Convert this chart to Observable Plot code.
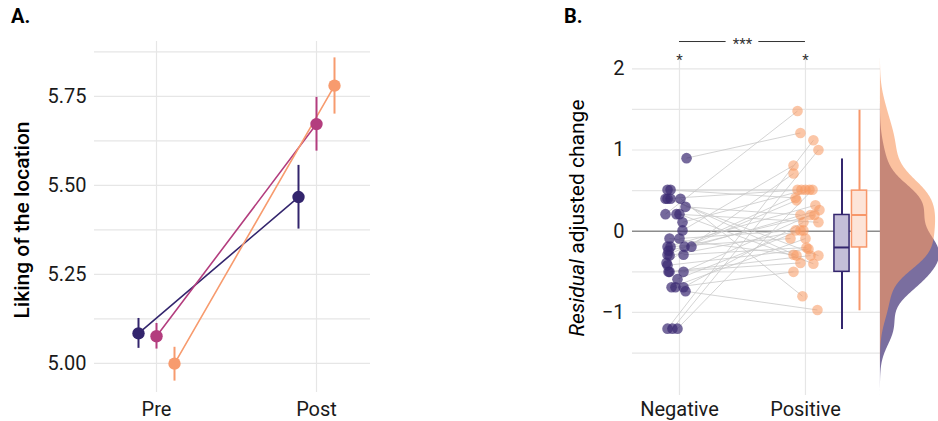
<!DOCTYPE html>
<html><head><meta charset="utf-8">
<script src="https://cdn.jsdelivr.net/npm/d3@7"></script>
<script src="https://cdn.jsdelivr.net/npm/@observablehq/plot@0.6"></script>
<style>
html,body{margin:0;padding:0;background:#fff;overflow:hidden}
#wrap{position:relative;width:938px;height:421px;font-family:Roboto,sans-serif}
.panel{position:absolute;top:0}
.tag{position:absolute;top:4px;font-weight:bold;font-size:20px;font-family:Roboto,sans-serif;color:#000}
</style></head><body>
<div id="wrap">
<div id="a" class="panel" style="left:0"></div>
<div id="b" class="panel" style="left:560px"></div>
<div class="tag" style="left:11px">A.</div>
<div class="tag" style="left:564px">B.</div>
</div>
<script>
// ---------- Panel A data ----------
const timesA = ["Pre", "Post"];
const groupsA = ["Negative", "Neutral", "Positive"];
const meanA = [[5.084, 5.467], [5.076, 5.672], [4.999, 5.780]];
const lowA  = [[5.042, 5.377], [5.040, 5.596], [4.950, 5.700]];
const highA = [[5.126, 5.556], [5.112, 5.747], [5.045, 5.858]];
const yTicksA = [5.00, 5.25, 5.50, 5.75];
const colorsA = ["#33256d", "#b33d7e", "#f79b6e"];

// ---------- Panel B data ----------
const conditionsB = ["Negative", "Positive"];
const negValue = [0.90, 0.51, 0.51, 0.40, 0.40, 0.40, 0.30, 0.21, 0.21, 0.21, 0.11, 0.01,
  -0.09, -0.09, -0.19, -0.19, -0.19, -0.19, -0.29, -0.29, -0.39, -0.50, -0.50, -0.59,
  -0.69, -0.69, -0.69, -0.74, -1.20, -1.20, -1.20, -0.42, -0.50, -0.24, -0.30, 0.40];
const negJitter = [0.056, -0.071, -0.095, -0.111, -0.071, 0.008, 0.048, -0.111, -0.024, 0, 0.024, 0.024,
  0, -0.079, -0.095, -0.071, 0.040, 0.095, 0.032, -0.095, -0.103, -0.087, 0.032, -0.016,
  -0.063, -0.032, 0.032, 0.048, -0.095, -0.056, -0.016, -0.095, -0.079, -0.087, -0.079, -0.095];
const posValue = [1.21, 0.51, 0.41, 0.51, -0.30, -0.80, 0.20, 1.48, 0.11, -0.40, 0.51, 0.81,
  0.01, -0.29, 0.32, -0.09, 0.51, 0.26, -0.20, 0.38, 0.71, -0.30, 0.20, 0.01,
  -0.09, -0.50, 0.11, -0.97, 1.12, 1.00, 0.51, -0.22, -0.39, 0.20, 0.01, -0.30];
const posJitter = [-0.040, -0.063, -0.079, -0.032, -0.071, -0.024, -0.040, -0.063, 0.103, 0.063, 0, -0.095,
  -0.079, -0.095, 0.079, -0.119, 0.032, 0.111, 0.008, -0.071, -0.095, 0.040, 0.040, -0.040,
  0, -0.095, -0.016, 0.095, 0.063, 0.103, 0.056, 0.024, -0.040, 0.071, -0.016, 0.103];
const boxLow  = [-1.21, -0.98];
const boxQ1   = [-0.50, -0.20];
const boxMed  = [-0.20, 0.20];
const boxQ3   = [0.20, 0.50];
const boxHigh = [0.89, 1.49];
const yTicksB = [-1, 0, 1, 2];
const sigLabels = ["*", "*", "***"];
const colorsB = ["#34266e", "#f7976a"];
const boxFills = ["#c4bed8", "#fde4d8"];
const densColors = ["#3b2a72", "#f8975f"];

// ---------- Panel A ----------
const dodge = [-0.1125, 0, 0.1125];
const dataA = [];
groupsA.forEach((g, gi) => timesA.forEach((t, ti) => dataA.push({
  group: g, time: t, x: ti + 1 + dodge[gi], mean: meanA[gi][ti], lo: lowA[gi][ti], hi: highA[gi][ti]
})));
const gridA = d3.range(5, 5.9, 0.125);
const plotA = Plot.plot({
  width: 400, height: 421,
  marginLeft: 94, marginRight: 30, marginTop: 41, marginBottom: 29,
  style: {fontFamily: "Roboto, sans-serif", fontSize: "20px", color: "#1a1a1a", background: "transparent"},
  x: {domain: [0.6125, 2.3375]},
  y: {domain: [4.918, 5.904]},
  color: {domain: groupsA, range: colorsA},
  marks: [
    Plot.ruleY(gridA, {stroke: "#e6e6e6", strokeWidth: 1.2}),
    Plot.ruleX([1, 2], {stroke: "#e6e6e6", strokeWidth: 1.2}),
    Plot.axisY(yTicksA, {tickSize: 0, tickPadding: 8, tickFormat: d => d.toFixed(2), label: null, fontSize: 20}),
    Plot.axisX([1, 2], {tickSize: 0, tickPadding: 9, tickFormat: d => timesA[d - 1], label: null, fontSize: 20}),
    Plot.line(dataA, {x: "x", y: "mean", z: "group", stroke: "group", strokeWidth: 1.6}),
    Plot.ruleX(dataA, {x: "x", y1: "lo", y2: "hi", stroke: "group", strokeWidth: 2}),
    Plot.dot(dataA, {x: "x", y: "mean", fill: "group", r: 6.2})
  ]
});
document.getElementById("a").append(plotA);
d3.select(plotA).append("text")
  .attr("transform", "translate(22,220) rotate(-90)")
  .attr("text-anchor", "middle").attr("dy", "0.35em")
  .attr("font-size", 21).attr("font-weight", 500).attr("fill", "#000")
  .text("Liking of the location");

// ---------- Panel B ----------
const pairs = negValue.map((v, i) => ({
  nx: 1 + negJitter[i], ny: v, px: 2 + posJitter[i], py: posValue[i]
}));
const boxPos = [2.29, 2.429];
const boxHalf = 0.06;
const boxes = conditionsB.map((c, i) => ({
  cond: c, x: boxPos[i], lo: boxLow[i], q1: boxQ1[i], med: boxMed[i], q3: boxQ3[i], hi: boxHigh[i],
  line: colorsB[i], fill: boxFills[i]
}));
const densBase = 2.595;
const densScale = 80 / 126;
const bw = 0.21;
const gridY = d3.range(-2.1, 2.15, 0.02);
const kde = vals => gridY.map(y => ({
  y, d: d3.mean(vals, v => Math.exp(-0.5 * ((y - v) / bw) ** 2)) / (bw * Math.sqrt(2 * Math.PI))
}));
const densNeg = kde(negValue);
const densPos = kde(posValue);
const xMin = 0.627, xMax = 3.056;
const gridB = [-1.5, -1, -0.5, 0.5, 1, 1.5, 2];

const plotB = Plot.plot({
  width: 378, height: 421,
  marginLeft: 72, marginRight: 0, marginTop: 58, marginBottom: 26,
  style: {fontFamily: "Roboto, sans-serif", fontSize: "20px", color: "#1a1a1a", background: "transparent"},
  x: {domain: [xMin, xMax]},
  y: {domain: [-2.023, 2.127]},
  marks: [
    Plot.ruleY(gridB, {x1: xMin, x2: densBase, stroke: "#e6e6e6", strokeWidth: 1.2}),
    Plot.ruleX([1, 2], {stroke: "#e6e6e6", strokeWidth: 1.2}),
    Plot.ruleY([0], {x1: xMin, x2: densBase, stroke: "#8c8c8c", strokeWidth: 1.5}),
    Plot.axisY(yTicksB, {tickSize: 0, tickPadding: 8, tickFormat: d => d < 0 ? "\u2212" + Math.abs(d) : String(d), label: null, fontSize: 20}),
    Plot.axisX([1, 2], {tickSize: 0, tickPadding: 6, tickFormat: d => conditionsB[d - 1], label: null, fontSize: 20}),
    Plot.link(pairs, {x1: "nx", y1: "ny", x2: "px", y2: "py", stroke: "#c9c9c9", strokeWidth: 0.8}),
    Plot.dot(pairs, {x: "nx", y: "ny", r: 5.3, fill: densColors[0], fillOpacity: 0.7}),
    Plot.dot(pairs, {x: "px", y: "py", r: 5.3, fill: densColors[1], fillOpacity: 0.55}),
    Plot.ruleX(boxes, {x: "x", y1: "lo", y2: "hi", stroke: d => d.line, strokeWidth: 2}),
    Plot.rect(boxes, {x1: d => d.x - boxHalf, x2: d => d.x + boxHalf, y1: "q1", y2: "q3",
      fill: d => d.fill, stroke: d => d.line, strokeWidth: 1.5}),
    Plot.ruleY(boxes, {y: "med", x1: d => d.x - boxHalf, x2: d => d.x + boxHalf, stroke: d => d.line, strokeWidth: 2}),
    Plot.areaX(densNeg, {y: "y", x1: () => densBase, x2: d => densBase + d.d * densScale, fill: densColors[0], fillOpacity: 0.68, clip: true}),
    Plot.areaX(densPos, {y: "y", x1: () => densBase, x2: d => densBase + d.d * densScale, fill: densColors[1], fillOpacity: 0.6, clip: true}),
    Plot.ruleY([2.336], {x1: 1, x2: 1.37, stroke: "#333", strokeWidth: 1}),
    Plot.ruleY([2.336], {x1: 1.63, x2: 2, stroke: "#333", strokeWidth: 1}),
    Plot.text([sigLabels[2]], {x: () => 1.5, y: () => 2.336, text: d => d, fontSize: 15, fill: "#333", dy: 3}),
    Plot.text([sigLabels[0], sigLabels[1]], {x: (d, i) => i + 1, y: () => 2.14, text: d => d, fontSize: 15, fill: "#333", dy: 3})
  ]
});
document.getElementById("b").append(plotB);
d3.select(plotB).append("text")
  .attr("transform", "translate(17,218) rotate(-90)")
  .attr("text-anchor", "middle").attr("dy", "0.35em")
  .attr("font-size", 21).attr("fill", "#000")
  .call(t => {
    t.append("tspan").attr("font-style", "italic").text("Residual");
    t.append("tspan").text(" adjusted change");
  });
</script>
</body></html>
